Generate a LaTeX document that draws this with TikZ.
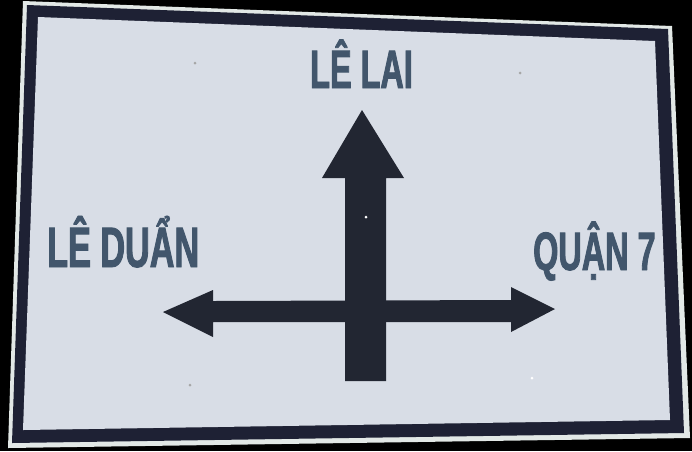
\documentclass[tikz,border=0pt]{standalone}
\usepackage{xcolor}
\usepackage{tikz}
\usepackage{fontspec}
\newfontfamily\signfont{Liberation Sans}[FakeStretch=0.6,FakeBold=1.5]
\definecolor{signtext}{RGB}{66,86,108}
\definecolor{signwhite}{RGB}{216,221,230}
\definecolor{rimwhite}{RGB}{226,232,230}
\definecolor{signdark}{RGB}{30,33,52}
\definecolor{arrowdark}{RGB}{34,38,50}

\begin{document}
\begin{tikzpicture}[x=1pt,y=-1pt,
	placename/.style={inner sep=0pt,anchor=base west,text=signtext,font=\signfont\bfseries\fontsize{54}{54}\selectfont},
	arrowpart/.style={fill=arrowdark,draw=none}]
\useasboundingbox (0,0) rectangle (692,451);
\fill[black] (0,0) rectangle (692,451);
% plate
\fill[rimwhite] (23,1) -- (672,26) -- (690,438) -- (8,448) -- cycle;
\fill[signdark] (27,5) -- (668,29) -- (684,433) -- (12,443) -- cycle;
\fill[signwhite] (38,17) -- (655,41) -- (670,420) -- (23,430) -- cycle;
% arrows
\fill[arrowpart] (345,381) -- (345,178) -- (322,178) -- (362,110) -- (404,178) -- (386,178) -- (386,381) -- cycle;
\fill[arrowpart] (163,312) -- (213,290) -- (213,301) -- (511,300) -- (511,287) -- (555,309) -- (511,332) -- (511,322) -- (213,322) -- (213,337) -- cycle;
% holes
\fill[gray!70] (195,63) circle (1.5) (520,73) circle (1.5) (190,385) circle (1.5);
\fill[white] (366,217) circle (1.5) (532,378) circle (1.5);
% names
\node[placename] at (310,88) (lelai) {LÊ LAI};
\node[placename,font=\signfont\bfseries\fontsize{57}{57}\selectfont] at (47,267) (leduan) {LÊ DUẨN};
\node[placename] at (533,270) (quan7) {QUẬN 7};
\end{tikzpicture}
\end{document}
